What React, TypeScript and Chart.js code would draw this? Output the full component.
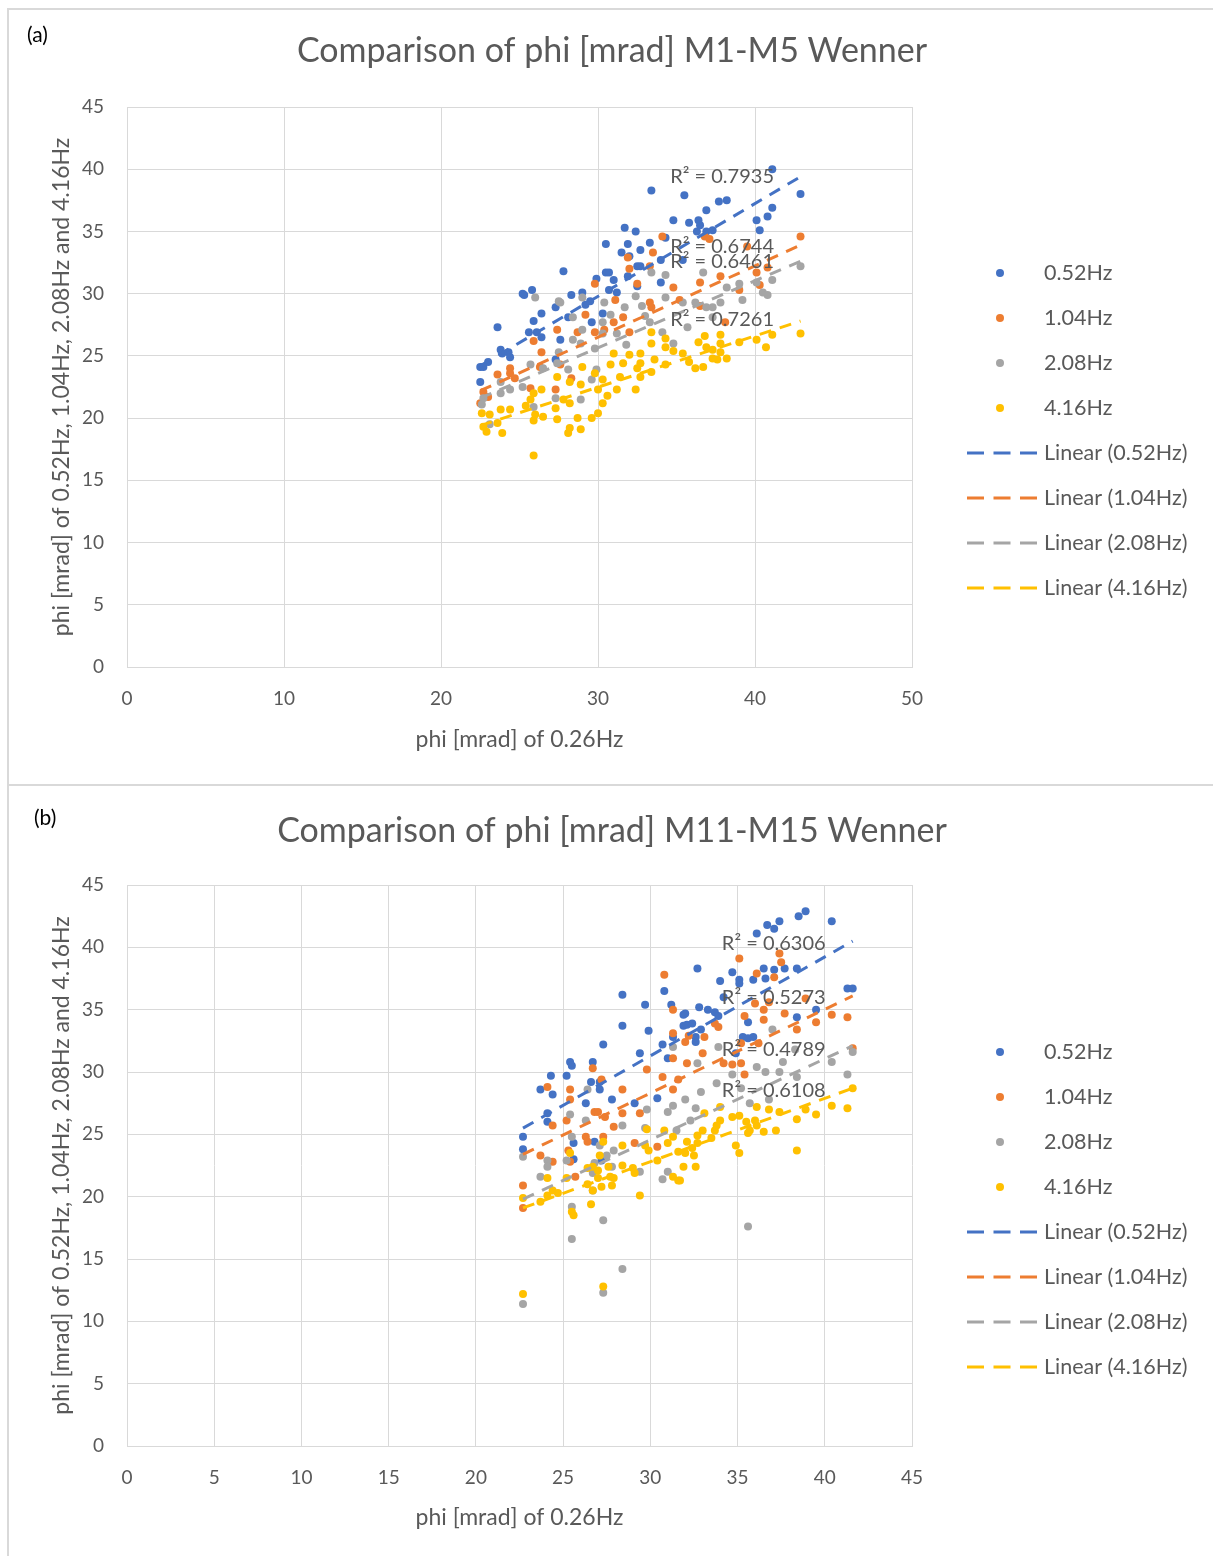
import React, { useEffect, useRef } from "react";
import { Chart, registerables } from "chart.js";

Chart.register(...registerables);

const FONT = "Lato, 'Open Sans', sans-serif";
const TEXT = "#595959";
const GRID = "#d9d9d9";

const seriesNames = ["0.52Hz", "1.04Hz", "2.08Hz", "4.16Hz"];
const seriesColors = ["#4472C4", "#ED7D31", "#A5A5A5", "#FFC000"];

// ---------- Panel (a): M1-M5 ----------
const a052 = [[22.5,22.9],[22.5,24.1],[22.7,24.1],[23.0,24.5],[23.6,27.3],[23.8,25.5],[23.9,25.2],[24.3,25.3],[24.4,24.9],[25.2,30.0],[25.3,29.9],[25.8,30.3],[25.6,26.9],[26.1,26.9],[26.4,26.5],[26.4,28.4],[25.9,27.8],[27.3,24.7],[27.6,26.3],[27.8,31.8],[28.1,28.1],[28.3,29.9],[29.0,30.1],[29.2,29.1],[29.5,29.4],[27.3,28.9],[29.6,27.7],[29.9,31.2],[30.3,28.4],[30.5,31.7],[30.7,31.7],[31.0,31.1],[30.7,30.3],[31.2,30.1],[30.5,34.0],[31.5,33.3],[31.7,35.3],[31.9,34.0],[31.9,31.4],[32.0,33.0],[32.4,35.0],[32.5,32.2],[32.5,30.6],[32.7,33.5],[32.7,32.2],[33.3,34.1],[33.4,38.3],[34.0,32.7],[34.0,30.9],[34.3,34.5],[34.8,35.9],[35.4,32.7],[35.5,37.9],[35.8,35.7],[36.4,35.9],[36.5,35.5],[36.3,35.0],[36.9,36.7],[36.9,35.0],[37.3,35.1],[37.7,37.4],[38.2,37.5],[40.1,35.9],[40.3,35.1],[40.8,36.2],[41.1,36.9],[41.1,40.0],[42.9,38.0]];
const a104 = [[31.9,32.9],[32.0,32.0],[29.8,30.8],[32.5,30.8],[34.1,34.6],[33.5,33.3],[36.8,34.6],[37.1,34.4],[39.5,33.8],[42.9,34.6],[33.3,32.2],[34.8,30.5],[36.5,30.9],[37.8,31.4],[40.1,31.7],[40.8,32.1],[33.3,29.3],[29.2,28.3],[27.4,27.1],[25.9,26.2],[26.4,25.3],[24.4,24.0],[24.4,23.6],[23.6,23.5],[24.7,23.2],[26.3,24.1],[25.7,22.4],[27.3,22.3],[22.7,22.1],[23.0,21.7],[28.3,23.2],[27.6,24.3],[28.7,26.9],[29.8,26.9],[31.0,27.7],[31.6,28.1],[32.0,26.9],[33.4,28.9],[38.1,27.7],[35.2,29.5],[36.5,29.0],[39.0,30.3],[40.3,30.7],[31.1,29.5],[30.4,27.1],[22.5,21.2]];
const a208 = [[26.0,29.7],[27.5,29.4],[29.0,29.7],[30.4,29.3],[32.4,29.8],[33.4,31.7],[34.3,31.5],[36.7,31.7],[38.2,30.5],[39.0,30.8],[40.1,30.9],[41.1,31.1],[42.9,32.2],[40.5,30.1],[40.8,29.9],[35.4,29.3],[36.2,29.3],[37.3,28.9],[37.8,29.3],[34.3,29.7],[32.8,29.0],[27.6,29.3],[28.4,28.1],[29.0,27.1],[30.8,28.3],[31.7,28.9],[30.3,27.7],[30.3,26.8],[31.2,26.8],[28.4,26.3],[28.9,26.0],[29.8,25.6],[27.5,25.3],[27.4,24.4],[28.1,23.9],[25.7,24.3],[26.5,24.0],[23.8,22.9],[24.4,22.3],[25.2,22.5],[23.8,22.0],[22.7,21.6],[22.6,21.1],[25.9,20.9],[27.3,21.6],[28.9,21.5],[29.6,23.1],[29.9,23.9],[23.1,19.5],[33.3,27.7],[34.1,26.9],[34.8,26.0],[35.7,27.3],[36.9,28.9],[37.3,28.1],[39.2,29.5],[31.8,25.9],[33.0,28.2]];
const a416 = [[31.0,25.2],[31.6,24.4],[30.8,24.3],[29.0,24.1],[29.8,23.6],[30.3,23.1],[28.2,22.9],[28.9,22.7],[27.4,23.3],[25.9,22.0],[26.4,22.3],[25.7,21.5],[25.4,21.0],[27.8,21.5],[28.2,21.2],[27.3,20.8],[26.0,20.3],[25.9,19.8],[26.5,20.1],[27.4,19.9],[28.7,20.0],[29.6,20.0],[30.0,20.4],[30.3,21.2],[30.6,21.8],[30.0,22.3],[31.2,22.3],[32.4,22.3],[23.8,20.7],[24.4,20.7],[22.6,20.4],[23.1,20.3],[23.6,19.6],[22.7,19.3],[22.9,18.9],[23.9,18.8],[28.2,19.2],[28.1,18.8],[28.9,19.1],[25.9,17.0],[31.4,23.3],[32.5,24.0],[32.0,25.1],[33.4,26.9],[33.4,26.0],[34.3,26.4],[34.3,25.7],[32.7,25.2],[33.6,24.7],[32.7,24.4],[32.7,23.3],[33.4,23.7],[34.3,24.3],[34.8,25.4],[35.4,25.2],[35.8,24.5],[36.2,24.0],[36.7,24.1],[36.4,26.1],[36.8,26.6],[36.9,25.7],[37.3,25.5],[37.3,24.8],[37.8,26.7],[37.8,26.0],[37.8,25.3],[37.6,24.7],[38.2,24.8],[39.0,26.1],[40.1,26.3],[40.7,25.7],[41.1,26.7],[42.9,26.8]];
// linear trendlines (start, end)
const aTrends = [
  [[22.5, 24.2], [42.9, 39.4]],
  [[22.5, 22.2], [42.9, 33.9]],
  [[22.5, 21.6], [42.9, 32.6]],
  [[22.5, 19.4], [42.9, 27.8]],
];
const aR2 = ["R² = 0.7935", "R² = 0.6744", "R² = 0.6461", "R² = 0.7261"];

// ---------- Panel (b): M11-M15 ----------
const b052 = [[28.4,36.2],[29.7,35.4],[30.8,36.5],[31.2,35.4],[31.9,34.6],[28.4,33.7],[29.9,33.3],[31.9,33.7],[27.3,32.2],[30.7,32.2],[31.3,32.8],[29.4,31.5],[31.0,31.1],[25.4,30.8],[25.5,30.5],[26.7,30.8],[24.3,29.7],[25.2,29.7],[26.6,29.2],[27.1,29.2],[23.7,28.6],[38.9,42.9],[38.5,42.5],[40.4,42.1],[37.4,42.1],[36.7,41.8],[37.1,41.5],[36.1,41.1],[32.7,38.3],[34.7,38.0],[34.0,37.3],[35.1,37.4],[35.1,37.1],[36.5,38.3],[37.1,38.2],[37.7,38.3],[38.4,38.3],[35.9,37.4],[36.6,37.5],[34.2,36.0],[41.3,36.7],[41.6,36.7],[32.8,35.2],[32.0,34.7],[33.3,35.0],[33.7,34.8],[33.9,34.5],[32.1,33.8],[32.4,33.9],[39.5,35.0],[38.4,34.4],[35.6,34.0],[32.6,32.8],[32.9,33.4],[35.3,32.8],[35.6,32.7],[35.9,32.8],[34.9,31.5],[32.6,32.4],[24.4,28.2],[24.1,26.7],[24.1,26.0],[22.7,24.8],[22.7,23.8],[27.1,28.6],[26.3,27.5],[27.8,27.8],[29.1,27.5],[30.4,27.9],[25.6,24.3],[25.6,23.0],[26.8,24.4],[27.2,22.9]];
const b104 = [[30.8,37.8],[31.3,35.0],[31.3,33.1],[31.3,31.1],[26.7,30.3],[29.8,30.2],[30.7,29.6],[31.6,29.4],[24.1,28.8],[27.2,29.4],[28.4,28.6],[25.4,28.6],[35.1,39.1],[37.4,39.5],[37.5,38.8],[36.1,37.9],[37.1,37.6],[38.9,35.9],[36.0,35.5],[36.8,35.6],[36.5,35.0],[35.4,34.5],[36.5,34.2],[37.7,34.7],[40.4,34.6],[41.3,34.4],[39.5,34.0],[38.4,33.4],[33.7,33.9],[33.9,33.6],[32.2,32.9],[33.1,32.8],[32.0,32.4],[35.2,32.3],[36.2,32.3],[33.0,31.5],[41.6,31.9],[34.2,30.7],[34.7,30.6],[35.2,30.7],[35.4,29.8],[32.1,30.7],[25.4,27.8],[26.8,26.8],[27.0,26.8],[27.4,26.4],[28.4,26.7],[29.4,26.7],[25.2,26.1],[24.4,25.7],[27.9,25.6],[26.3,24.8],[26.4,24.4],[27.3,24.8],[25.3,23.7],[25.4,22.8],[23.7,23.3],[24.4,22.8],[29.1,24.3],[30.4,24.0],[25.7,21.6],[22.7,20.9],[22.7,19.1],[31.3,28.6]];
const b208 = [[31.3,32.0],[26.4,28.6],[37.0,33.4],[33.9,32.0],[38.3,31.8],[41.6,31.6],[40.4,30.8],[37.6,30.8],[36.6,30.0],[36.1,30.4],[37.4,30.0],[38.4,29.6],[41.3,29.8],[32.7,30.7],[33.8,29.1],[34.7,29.8],[25.4,26.6],[26.3,26.1],[28.4,25.7],[29.8,27.0],[29.7,25.5],[31.0,26.8],[31.3,27.3],[25.5,24.8],[27.1,24.1],[27.9,23.7],[27.5,23.3],[27.8,22.4],[26.8,22.7],[24.1,22.9],[24.1,22.4],[23.7,21.6],[25.2,22.9],[22.7,23.2],[26.7,21.9],[26.7,20.5],[25.5,19.2],[27.3,18.1],[25.5,16.6],[28.4,14.2],[27.3,12.3],[22.7,11.4],[30.7,21.4],[31.0,22.0],[29.4,22.0],[35.6,17.6],[32.6,27.1],[35.7,27.5],[36.8,27.8],[32.0,27.8],[32.9,28.4],[35.2,28.7],[32.3,26.1],[31.5,25.3]];
const b416 = [[29.8,25.4],[30.8,25.3],[31.3,24.8],[31.0,24.3],[29.7,24.1],[29.9,23.7],[28.4,24.1],[27.3,24.4],[27.1,23.3],[25.4,23.5],[27.6,22.4],[28.4,22.5],[29.0,22.3],[29.1,21.9],[26.4,22.3],[26.7,22.4],[27.0,22.1],[27.0,21.5],[27.7,21.6],[27.9,21.5],[27.8,20.9],[27.2,20.8],[26.7,20.5],[26.4,21.0],[25.2,21.5],[24.1,21.5],[24.4,20.5],[24.1,20.1],[24.7,20.3],[22.7,19.9],[23.7,19.6],[26.6,19.4],[29.4,20.1],[25.5,18.8],[25.6,18.5],[22.7,12.2],[27.3,12.8],[30.4,22.9],[31.3,21.6],[31.6,21.3],[31.6,23.6],[41.6,28.7],[40.4,27.3],[41.3,27.1],[39.5,26.6],[38.9,27.0],[38.4,26.2],[37.4,26.8],[36.8,27.0],[36.1,27.2],[36.0,26.1],[35.1,26.5],[34.7,26.4],[35.5,26.0],[35.7,25.3],[36.1,25.7],[36.5,25.2],[37.2,25.3],[35.6,25.1],[34.9,24.1],[35.1,23.5],[38.4,23.7],[34.0,27.2],[33.8,25.7],[33.7,25.3],[33.0,25.3],[33.1,26.7],[34.0,26.1],[33.5,24.7],[32.7,24.9],[32.7,24.3],[32.1,24.4],[32.4,23.9],[32.0,23.5],[32.5,23.3],[31.9,22.4],[32.6,22.4],[31.7,21.3]];
const bTrends = [
  [[22.7, 25.5], [41.6, 40.5]],
  [[22.7, 23.4], [41.6, 36.1]],
  [[22.7, 19.8], [41.6, 32.1]],
  [[22.7, 19.1], [41.6, 28.7]],
];
const bR2 = ["R² = 0.6306", "R² = 0.5273", "R² = 0.4789", "R² = 0.6108"];

// ---------- layout / style (kept apart from data) ----------
const panelA = {
  label: "(a)",
  title: "Comparison of phi [mrad] M1-M5 Wenner",
  series: [a052, a104, a208, a416],
  trends: aTrends,
  r2: aR2,
  r2Pos: [[34.6, 39.4], [34.6, 33.8], [34.6, 32.6], [34.6, 27.9]],
  xMax: 50, xStep: 10,
  height: 785, padTop: 107, padBottom: 28, xTitlePad: 4,
  labelY: 35, labelX: 27, titleY: 51, legendTop: 273,
};
const panelB = {
  label: "(b)",
  title: "Comparison of phi [mrad] M11-M15 Wenner",
  series: [b052, b104, b208, b416],
  trends: bTrends,
  r2: bR2,
  r2Pos: [[34.1, 40.3], [34.1, 36.0], [34.1, 31.8], [34.1, 28.5]],
  xMax: 45, xStep: 5,
  height: 771, padTop: 100, padBottom: 20, xTitlePad: 5,
  labelY: 33, labelX: 34, titleY: 46, legendTop: 267,
};

function makeOverlay(cfg: any) {
  return {
    id: "overlay",
    afterDraw(chart: any) {
      const ctx = chart.ctx;
      const xs = chart.scales.x;
      const ys = chart.scales.y;
      ctx.save();
      ctx.textBaseline = "middle";
      // panel label
      ctx.fillStyle = "#000";
      ctx.textAlign = "left";
      ctx.font = `21px ${FONT}`;
      ctx.fillText(cfg.label, cfg.labelX, cfg.labelY);
      // title
      ctx.fillStyle = TEXT;
      ctx.textAlign = "center";
      ctx.font = `34px ${FONT}`;
      ctx.fillText(cfg.title, 612, cfg.titleY);
      // R² labels
      ctx.textAlign = "left";
      ctx.font = `20px ${FONT}`;
      cfg.r2.forEach((t: string, i: number) => {
        ctx.fillText(t, xs.getPixelForValue(cfg.r2Pos[i][0]), ys.getPixelForValue(cfg.r2Pos[i][1]));
      });
      // legend
      const rows = [
        ...seriesNames.map((n, i) => ({ text: n, color: seriesColors[i], line: false })),
        ...seriesNames.map((n, i) => ({ text: `Linear (${n})`, color: seriesColors[i], line: true })),
      ];
      ctx.font = `21.5px ${FONT}`;
      rows.forEach((r, i) => {
        const yy = cfg.legendTop + i * 45;
        if (r.line) {
          ctx.strokeStyle = r.color;
          ctx.lineWidth = 3;
          ctx.setLineDash([17, 9.5]);
          ctx.beginPath();
          ctx.moveTo(967, yy);
          ctx.lineTo(1037, yy);
          ctx.stroke();
          ctx.setLineDash([]);
        } else {
          ctx.fillStyle = r.color;
          ctx.beginPath();
          ctx.arc(1000, yy, 4, 0, Math.PI * 2);
          ctx.fill();
        }
        ctx.fillStyle = TEXT;
        ctx.fillText(r.text, 1044, yy);
      });
      ctx.restore();
    },
  };
}

function Panel({ cfg, top }: { cfg: any; top: number }) {
  const ref = useRef<HTMLCanvasElement | null>(null);
  useEffect(() => {
    if (!ref.current) return;
    const scatterSets = cfg.series.map((pts: number[][], i: number) => ({
      type: "scatter",
      label: seriesNames[i],
      data: pts.map(([x, y]) => ({ x, y })),
      backgroundColor: seriesColors[i],
      borderWidth: 0,
      pointRadius: 4,
      pointHoverRadius: 4,
      order: 10 - i,
    }));
    const trendSets = cfg.trends.map((tr: number[][], i: number) => ({
      type: "line",
      label: `Linear (${seriesNames[i]})`,
      data: tr.map(([x, y]) => ({ x, y })),
      borderColor: seriesColors[i],
      borderWidth: 3,
      borderDash: [12, 9],
      pointRadius: 0,
      fill: false,
      tension: 0,
      order: 4 - i,
    }));
    const chart = new Chart(ref.current, {
      type: "scatter",
      data: { datasets: [...scatterSets, ...trendSets] as any },
      options: {
        responsive: false,
        animation: false,
        events: [],
        layout: { padding: { left: 27, right: 301, top: cfg.padTop, bottom: cfg.padBottom } },
        plugins: { legend: { display: false }, title: { display: false }, tooltip: { enabled: false } },
        scales: {
          x: {
            type: "linear",
            min: 0,
            max: cfg.xMax,
            ticks: { stepSize: cfg.xStep, color: TEXT, font: { family: FONT, size: 19 }, padding: 20 },
            grid: { color: GRID, drawTicks: false },
            border: { color: GRID },
            title: {
              display: true,
              text: "phi [mrad] of 0.26Hz",
              color: TEXT,
              font: { family: FONT, size: 23 },
              padding: { top: 0, bottom: cfg.xTitlePad },
            },
            afterFit: (s: any) => { s.height = 90; },
          },
          y: {
            type: "linear",
            min: 0,
            max: 45,
            ticks: { stepSize: 5, color: TEXT, font: { family: FONT, size: 19 }, padding: 23 },
            grid: { color: GRID, drawTicks: false },
            border: { color: GRID },
            title: {
              display: true,
              text: "phi [mrad] of 0.52Hz, 1.04Hz, 2.08Hz and 4.16Hz",
              color: TEXT,
              font: { family: FONT, size: 23 },
              padding: { top: 21, bottom: 0 },
            },
            afterFit: (s: any) => { s.width = 100; },
          },
        },
      } as any,
      plugins: [makeOverlay(cfg)],
    });
    return () => chart.destroy();
  }, [cfg]);
  return (
    <canvas
      ref={ref}
      width={1213}
      height={cfg.height}
      style={{ position: "absolute", left: 0, top, width: 1213, height: cfg.height }}
    />
  );
}

export default function App() {
  return (
    <div style={{ position: "absolute", left: 0, top: 0, width: 1213, height: 1556, background: "#fff", overflow: "hidden" }}>
      <div style={{ position: "absolute", left: 7, top: 8, width: 1206, height: 778, border: `2px solid ${GRID}`, borderRight: "none", boxSizing: "border-box" }} />
      <div style={{ position: "absolute", left: 7, top: 784, width: 1206, height: 790, border: `2px solid ${GRID}`, borderRight: "none", boxSizing: "border-box" }} />
      <Panel cfg={panelA} top={0} />
      <Panel cfg={panelB} top={785} />
    </div>
  );
}
